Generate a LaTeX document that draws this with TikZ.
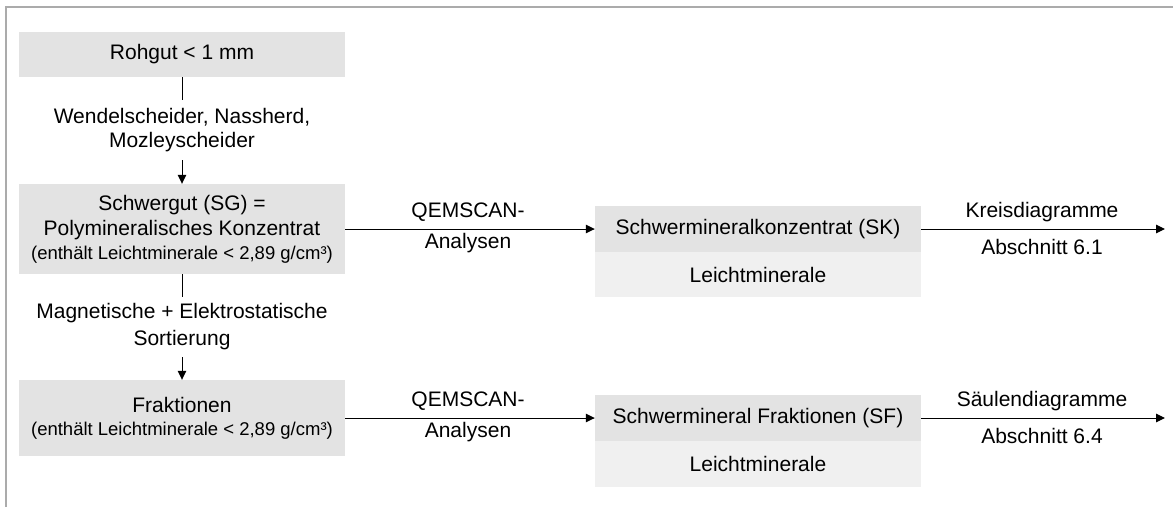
\documentclass[tikz,border=0pt]{standalone}
\usepackage{fontspec}
\setmainfont{Liberation Sans}
\usetikzlibrary{arrows.meta}
\definecolor{boxgray}{HTML}{E3E3E3}
\definecolor{boxlight}{HTML}{F0F0F0}
\definecolor{framegray}{HTML}{ABABAB}
\begin{document}
\begin{tikzpicture}[x=1pt,y=-1pt,
  every node/.style={font=\fontsize{21}{25}\selectfont, align=center, inner sep=0pt},
  gbox/.style={fill=boxgray, minimum width=326pt},
  lbox/.style={fill=boxlight, minimum width=326pt, minimum height=45pt},
  conn/.style={line width=1pt, draw=black},
  arr/.style={conn, -{Triangle[length=9pt,width=8.5pt]}}
]
\useasboundingbox (0,0) rectangle (1173,507);
\draw[framegray, line width=1.2pt] (6,507) -- (6,7) -- (1173,7);

% left column
\node[gbox, minimum height=45pt] (roh) at (182,54.5) {Rohgut < 1 mm};
\node[minimum height=60pt, font=\fontsize{21}{24}\selectfont] (sep1) at (182,130) {Wendelscheider, Nassherd,\\Mozleyscheider};
\node[gbox, minimum height=90pt] (sg) at (182,229) {Schwergut (SG) =\\Polymineralisches Konzentrat\\[-1pt]{\fontsize{18.5}{22}\selectfont(enthält Leichtminerale < 2,89 g/cm³)}};
\node[minimum height=60pt, font=\fontsize{21}{27}\selectfont] (sep2) at (182,327) {Magnetische + Elektrostatische\\Sortierung};
\node[gbox, minimum height=76pt] (fr) at (182,418) {Fraktionen\\[-2pt]{\fontsize{18.5}{22}\selectfont(enthält Leichtminerale < 2,89 g/cm³)}};

\draw[conn] (roh.south) -- (sep1.north);
\draw[arr] (sep1.south) -- (sg.north);
\draw[conn] (sg.south) -- (sep2.north);
\draw[arr] (sep2.south) -- (fr.north);

% middle column
\node[gbox, minimum height=46pt] (sk) at (758,229) {Schwermineralkonzentrat (SK)};
\node[lbox, anchor=north] (sklm) at (sk.south) {Leichtminerale};
\node[gbox, minimum height=46pt] (sf) at (758,418) {Schwermineral Fraktionen (SF)};
\node[lbox, minimum height=46pt, anchor=north] (sflm) at (sf.south) {Leichtminerale};

\draw[arr] (sg.east |- sk.west) -- (sk.west);
\node (q1a) at (468,212) {QEMSCAN-};
\node (q1b) at (468,243) {Analysen};
\draw[arr] (fr.east |- sf.west) -- (sf.west);
\node (q2a) at (468,401) {QEMSCAN-};
\node (q2b) at (468,432) {Analysen};

% right column
\coordinate (e1) at (1165,229);
\coordinate (e2) at (1165,418);
\draw[arr] (sk.east) -- (e1);
\node (k1) at (1042,212) {Kreisdiagramme};
\node (k2) at (1042,247) {Abschnitt 6.1};
\draw[arr] (sf.east) -- (e2);
\node (s1) at (1042,401) {Säulendiagramme};
\node (s2) at (1042,436) {Abschnitt 6.4};
\end{tikzpicture}
\end{document}
